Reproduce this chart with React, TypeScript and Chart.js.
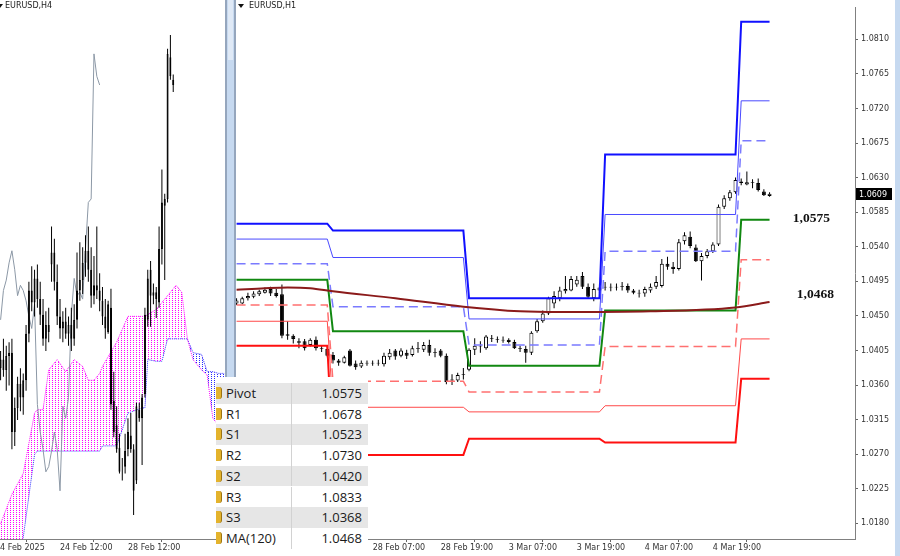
import React, { useEffect, useRef } from "react";
import { Chart, registerables } from "chart.js";

Chart.register(...registerables);

// ---------------- Right panel: EURUSD H1 (bar index 0 = 27 Feb 07:00) ----------------
const H1_OPEN = [
  1.0466, 1.0466, 1.0473, 1.0475, 1.0478, 1.0480, 1.0485, 1.0480, 1.0478, 1.0426,
  1.0424, 1.0417, 1.0417, 1.0412, 1.0419, 1.0408, 1.0407, 1.0399, 1.0392, 1.0389,
  1.0405, 1.0388, 1.0384, 1.0388, 1.0389, 1.0388, 1.0387, 1.0396, 1.0405, 1.0398,
  1.0402, 1.0399, 1.0407, 1.0406, 1.0412, 1.0402, 1.0405, 1.0398, 1.0366, 1.0366,
  1.0373, 1.0380, 1.0406, 1.0410, 1.0408, 1.0421, 1.0420, 1.0419, 1.0419, 1.0416,
  1.0408, 1.0407, 1.0402, 1.0430, 1.0443, 1.0453, 1.0466, 1.0473, 1.0482, 1.0483,
  1.0491, 1.0502, 1.0488, 1.0473, 1.0483, 1.0487, 1.0488, 1.0487, 1.0488, 1.0489,
  1.0483, 1.0480, 1.0479, 1.0483, 1.0488, 1.0489, 1.0518, 1.0514, 1.0511, 1.0547,
  1.0553, 1.0539, 1.0521, 1.0528, 1.0534, 1.0543, 1.0592, 1.0603, 1.0611, 1.0625,
  1.0621, 1.0624, 1.0623, 1.0612, 1.0606,
];
const H1_HIGH = [
  1.0473, 1.0475, 1.0480, 1.0482, 1.0484, 1.0487, 1.0488, 1.0485, 1.0491, 1.0443,
  1.0426, 1.0421, 1.0420, 1.0421, 1.0423, 1.0411, 1.0411, 1.0403, 1.0394, 1.0398,
  1.0407, 1.0392, 1.0392, 1.0392, 1.0392, 1.0393, 1.0402, 1.0407, 1.0407, 1.0408,
  1.0406, 1.0411, 1.0416, 1.0416, 1.0419, 1.0408, 1.0407, 1.0401, 1.0374, 1.0376,
  1.0382, 1.0408, 1.0421, 1.0417, 1.0425, 1.0425, 1.0423, 1.0423, 1.0421, 1.0419,
  1.0411, 1.0411, 1.0430, 1.0446, 1.0457, 1.0475, 1.0482, 1.0488, 1.0502, 1.0502,
  1.0502, 1.0507, 1.0492, 1.0492, 1.0492, 1.0494, 1.0492, 1.0492, 1.0494, 1.0492,
  1.0485, 1.0484, 1.0488, 1.0492, 1.0502, 1.0524, 1.0527, 1.0520, 1.0550, 1.0559,
  1.0560, 1.0543, 1.0532, 1.0537, 1.0546, 1.0595, 1.0607, 1.0614, 1.0630, 1.0629,
  1.0638, 1.0628, 1.0629, 1.0615, 1.0611,
];
const H1_LOW = [
  1.0464, 1.0465, 1.0470, 1.0473, 1.0476, 1.0479, 1.0476, 1.0474, 1.0421, 1.0419,
  1.0414, 1.0408, 1.0405, 1.0410, 1.0405, 1.0403, 1.0396, 1.0388, 1.0385, 1.0388,
  1.0384, 1.0380, 1.0382, 1.0385, 1.0385, 1.0385, 1.0384, 1.0393, 1.0393, 1.0396,
  1.0394, 1.0397, 1.0402, 1.0403, 1.0398, 1.0396, 1.0396, 1.0361, 1.0360, 1.0364,
  1.0367, 1.0378, 1.0399, 1.0402, 1.0406, 1.0416, 1.0415, 1.0415, 1.0414, 1.0407,
  1.0403, 1.0389, 1.0399, 1.0428, 1.0441, 1.0451, 1.0460, 1.0469, 1.0479, 1.0482,
  1.0488, 1.0485, 1.0473, 1.0469, 1.0479, 1.0483, 1.0482, 1.0483, 1.0483, 1.0480,
  1.0478, 1.0474, 1.0475, 1.0480, 1.0485, 1.0487, 1.0510, 1.0505, 1.0509, 1.0543,
  1.0538, 1.0520, 1.0496, 1.0525, 1.0532, 1.0541, 1.0589, 1.0600, 1.0609, 1.0620,
  1.0620, 1.0616, 1.0612, 1.0606, 1.0605,
];
const H1_CLOSE = [
  1.0470, 1.0473, 1.0476, 1.0479, 1.0482, 1.0484, 1.0479, 1.0476, 1.0424, 1.0424,
  1.0420, 1.0415, 1.0408, 1.0419, 1.0408, 1.0407, 1.0398, 1.0392, 1.0389, 1.0396,
  1.0385, 1.0383, 1.0389, 1.0389, 1.0388, 1.0389, 1.0398, 1.0402, 1.0397, 1.0405,
  1.0398, 1.0408, 1.0408, 1.0412, 1.0402, 1.0403, 1.0398, 1.0364, 1.0367, 1.0373,
  1.0374, 1.0406, 1.0411, 1.0411, 1.0423, 1.0420, 1.0419, 1.0418, 1.0416, 1.0408,
  1.0407, 1.0402, 1.0428, 1.0443, 1.0453, 1.0473, 1.0476, 1.0483, 1.0485, 1.0498,
  1.0497, 1.0488, 1.0475, 1.0485, 1.0487, 1.0488, 1.0487, 1.0488, 1.0489, 1.0483,
  1.0480, 1.0479, 1.0485, 1.0488, 1.0494, 1.0518, 1.0514, 1.0511, 1.0546, 1.0555,
  1.0541, 1.0521, 1.0528, 1.0534, 1.0543, 1.0592, 1.0603, 1.0611, 1.0627, 1.0623,
  1.0624, 1.0623, 1.0614, 1.0607, 1.0609,
];

// Daily pivot levels (27 Feb, 28 Feb, 3 Mar, 4 Mar, 5 Mar)
const DAY_START = [0, 17, 41, 65, 89];
const DAY_END = [16, 40, 64, 88, 94];
const LEVEL_R3 = [1.0570, 1.0561, 1.0473, 1.0660, 1.0833];
const LEVEL_R2 = [1.0550, 1.0526, 1.0446, 1.0582, 1.0730];
const LEVEL_R1 = [1.0518, 1.0462, 1.0412, 1.0534, 1.0678];
const LEVEL_P = [1.0497, 1.0430, 1.0385, 1.0457, 1.0575];
const LEVEL_S1 = [1.0464, 1.0365, 1.0351, 1.0410, 1.0523];
const LEVEL_S2 = [1.0443, 1.0331, 1.0325, 1.0333, 1.0420];
const LEVEL_S3 = [1.0411, 1.0269, 1.0290, 1.0285, 1.0368];

// MA(120) read at a few bars
const MA_IDX = [0, 5, 9, 13, 17, 28, 40, 50, 57, 73, 88, 94];
const MA_VAL = [1.0484, 1.0486, 1.0487, 1.0486, 1.0482, 1.0473, 1.0462, 1.0456, 1.0455, 1.0456, 1.0461, 1.0468];

const H1_TICK_IDX = [24, 36, 48, 60, 72, 84];
const H1_TICK_LABELS = ["28 Feb 07:00", "28 Feb 19:00", "3 Mar 07:00", "3 Mar 19:00", "4 Mar 07:00", "4 Mar 19:00"];
const Y_TICKS = [1.0180, 1.0225, 1.0270, 1.0315, 1.0360, 1.0405, 1.0450, 1.0495, 1.0540, 1.0585, 1.0630, 1.0675, 1.0720, 1.0765, 1.0810];
const KEY_LABELS = ["1,0575", "1,0468"];

// ---------------- Left panel: EURUSD H4 (bar index 0 = 19 Feb 00:00) ----------------
const H4_OPEN = [
  1.0445, 1.0450, 1.0444, 1.0452, 1.0454, 1.0408, 1.0422, 1.0436, 1.0428, 1.0438,
  1.0465, 1.0490, 1.0483, 1.0497, 1.0485, 1.0476, 1.0462, 1.0470, 1.0505, 1.0512,
  1.0495, 1.0475, 1.0468, 1.0472, 1.0465, 1.0470, 1.0462, 1.0473, 1.0490, 1.0496,
  1.0506, 1.0513, 1.0502, 1.0487, 1.0493, 1.0490, 1.0484, 1.0475, 1.0466, 1.0480,
  1.0426, 1.0412, 1.0399, 1.0388, 1.0388, 1.0398, 1.0406, 1.0398, 1.0380, 1.0421,
  1.0416, 1.0430, 1.0473, 1.0502, 1.0487, 1.0489, 1.0483, 1.0514, 1.0539, 1.0543,
  1.0625, 1.0612,
];
const H4_HIGH = [
  1.0455, 1.0462, 1.0458, 1.0460, 1.0462, 1.0428, 1.0440, 1.0445, 1.0442, 1.0470,
  1.0495, 1.0504, 1.0502, 1.0505, 1.0495, 1.0485, 1.0478, 1.0480, 1.0527, 1.0520,
  1.0505, 1.0485, 1.0478, 1.0480, 1.0475, 1.0480, 1.0482, 1.0512, 1.0518, 1.0515,
  1.0522, 1.0527, 1.0515, 1.0510, 1.0527, 1.0500, 1.0492, 1.0485, 1.0484, 1.0491,
  1.0443, 1.0423, 1.0407, 1.0393, 1.0407, 1.0416, 1.0419, 1.0401, 1.0425, 1.0425,
  1.0430, 1.0480, 1.0502, 1.0507, 1.0494, 1.0492, 1.0527, 1.0560, 1.0546, 1.0630,
  1.0638, 1.0615,
];
const H4_LOW = [
  1.0438, 1.0440, 1.0432, 1.0435, 1.0398, 1.0400, 1.0415, 1.0420, 1.0418, 1.0432,
  1.0460, 1.0478, 1.0475, 1.0480, 1.0470, 1.0458, 1.0455, 1.0460, 1.0495, 1.0490,
  1.0470, 1.0462, 1.0460, 1.0462, 1.0458, 1.0455, 1.0458, 1.0468, 1.0484, 1.0488,
  1.0498, 1.0495, 1.0480, 1.0482, 1.0485, 1.0478, 1.0470, 1.0462, 1.0465, 1.0421,
  1.0405, 1.0396, 1.0384, 1.0380, 1.0384, 1.0394, 1.0396, 1.0360, 1.0378, 1.0414,
  1.0389, 1.0428, 1.0469, 1.0469, 1.0482, 1.0474, 1.0480, 1.0505, 1.0496, 1.0541,
  1.0612, 1.0605,
];
const H4_CLOSE = [
  1.0450, 1.0444, 1.0452, 1.0454, 1.0408, 1.0422, 1.0436, 1.0428, 1.0438, 1.0465,
  1.0490, 1.0483, 1.0497, 1.0485, 1.0476, 1.0462, 1.0470, 1.0466, 1.0512, 1.0495,
  1.0475, 1.0468, 1.0472, 1.0465, 1.0470, 1.0462, 1.0473, 1.0490, 1.0496, 1.0506,
  1.0513, 1.0502, 1.0487, 1.0493, 1.0490, 1.0484, 1.0475, 1.0468, 1.0482, 1.0424,
  1.0408, 1.0398, 1.0385, 1.0388, 1.0397, 1.0408, 1.0398, 1.0374, 1.0423, 1.0416,
  1.0428, 1.0476, 1.0497, 1.0487, 1.0489, 1.0485, 1.0514, 1.0541, 1.0543, 1.0627,
  1.0614, 1.0609,
];
const CHIKOU_SHIFT = 26;

// Ichimoku cloud (Senkou spans, already shifted forward)
const CLOUD_IDX = [0, 4, 8, 12, 13, 15, 17, 20, 23, 26, 29, 31, 33, 35, 36, 41, 45, 50, 51, 52, 55, 57, 59, 62, 64, 66, 68, 71, 73, 75, 77, 79];
const SPAN_A = [1.0355, 1.0372, 1.0384, 1.0419, 1.0421, 1.0421, 1.0444, 1.0450, 1.0443, 1.0450, 1.0446, 1.0438, 1.0438, 1.0442, 1.0446, 1.0460, 1.0475, 1.0475, 1.0475, 1.0476, 1.0479, 1.0483, 1.0487, 1.0493, 1.0489, 1.0462, 1.0450, 1.0444, 1.0441, 1.0416, 1.0412, 1.0412];
const SPAN_B = [1.0311, 1.0322, 1.0347, 1.0395, 1.0397, 1.0397, 1.0397, 1.0397, 1.0397, 1.0397, 1.0397, 1.0397, 1.0397, 1.0397, 1.0400, 1.0400, 1.0419, 1.0422, 1.0422, 1.0450, 1.0449, 1.0449, 1.0462, 1.0462, 1.0462, 1.0462, 1.0454, 1.0453, 1.0443, 1.0443, 1.0442, 1.0442];

const H4_TICK_IDX = [21, 45];
const H4_TICK_LABELS = ["24 Feb 12:00", "28 Feb 12:00"];
const H4_FIRST_LABEL = "14 Feb 2025";

// ---------------- Overlay table ----------------
const TABLE_NAMES = ["Pivot", "R1", "S1", "R2", "S2", "R3", "S3", "MA(120)"];
const TABLE_VALUES = ["1.0575", "1.0678", "1.0523", "1.0730", "1.0420", "1.0833", "1.0368", "1.0468"];

const AXIS_FONT = { family: "DejaVu Sans", size: 8 };

function dotPattern(color: string) {
  const c = document.createElement("canvas");
  c.width = 3;
  c.height = 2;
  const g = c.getContext("2d")!;
  g.clearRect(0, 0, 3, 2);
  g.fillStyle = color;
  g.fillRect(1, 0, 1, 1);
  return g.createPattern(c, "repeat")!;
}

function candleSets(open: number[], high: number[], low: number[], close: number[], bodyW: number) {
  const wicks = {
    type: "bar" as const,
    data: open.map((_, i) => ({ x: i, y: [low[i], high[i]] })),
    backgroundColor: "#000",
    borderWidth: 0,
    grouped: false,
    maxBarThickness: 1,
    inflateAmount: 0,
    order: 3,
    clip: 0,
  };
  const bodies = {
    type: "bar" as const,
    data: open.map((o, i) => ({ x: i, y: [o, close[i]] })),
    backgroundColor: open.map((o, i) => (close[i] >= o ? "#ffffff" : "#000000")),
    borderColor: "#000",
    borderWidth: 1,
    borderSkipped: false,
    grouped: false,
    maxBarThickness: bodyW,
    inflateAmount: 0,
    order: 2,
    clip: 0,
  };
  return [wicks, bodies];
}

function levelPoints(vals: number[]) {
  return vals.flatMap((v, i) => [
    { x: DAY_START[i], y: v },
    { x: DAY_END[i], y: v },
  ]);
}

function levelSet(vals: number[], color: string, width: number, dash: number[] = []) {
  return {
    type: "line" as const,
    data: levelPoints(vals),
    borderColor: color,
    borderWidth: width,
    borderDash: dash,
    pointRadius: 0,
    tension: 0,
    fill: false,
    order: 1,
    clip: 0,
  };
}

export default function App() {
  const leftRef = useRef<HTMLCanvasElement>(null);
  const rightRef = useRef<HTMLCanvasElement>(null);

  useEffect(() => {
    const charts: Chart[] = [];

    // ---------- right chart ----------
    const R_PX_PER_BAR = 5.67;
    const R_XMIN = -0.1;
    const R_XMAX = R_XMIN + 619 / R_PX_PER_BAR;
    const rightDecor = {
      id: "rightDecor",
      afterDraw(chart: any) {
        const { ctx, chartArea } = chart;
        const x = chart.scales.x;
        const y = chart.scales.y;
        ctx.save();
        ctx.font = 'bold 13.5px "Liberation Serif"';
        ctx.fillStyle = "#111";
        ctx.textBaseline = "middle";
        ctx.textAlign = "left";
        ctx.fillText(KEY_LABELS[0], x.getPixelForValue(98.1), y.getPixelForValue(LEVEL_P[LEVEL_P.length - 1]) - 1);
        ctx.fillText(KEY_LABELS[1], x.getPixelForValue(98.8), y.getPixelForValue(MA_VAL[MA_VAL.length - 1]) - 8);
        const last = H1_CLOSE[H1_CLOSE.length - 1];
        const py = Math.round(y.getPixelForValue(last));
        ctx.fillStyle = "#000";
        ctx.fillRect(chartArea.right + 1, py - 6, 36, 12);
        ctx.fillStyle = "#fff";
        ctx.font = '8px "DejaVu Sans"';
        ctx.fillText(last.toFixed(4), chartArea.right + 4, py + 0.5);
        ctx.restore();
      },
    };

    if (rightRef.current) {
      const [wicks, bodies] = candleSets(H1_OPEN, H1_HIGH, H1_LOW, H1_CLOSE, 4);
      charts.push(
        new Chart(rightRef.current, {
          type: "line",
          data: {
            datasets: [
              {
                type: "line",
                data: MA_IDX.map((x, i) => ({ x, y: MA_VAL[i] })),
                borderColor: "#8b1a1a",
                borderWidth: 2,
                pointRadius: 0,
                cubicInterpolationMode: "monotone",
                fill: false,
                order: 0,
                clip: 0,
              } as any,
              levelSet(LEVEL_R3, "#1010ff", 2),
              levelSet(LEVEL_R2, "#4a4aff", 1),
              levelSet(LEVEL_R1, "#7a7aff", 1.5, [9, 5]),
              levelSet(LEVEL_P, "#118811", 2),
              levelSet(LEVEL_S1, "#ff7070", 1.5, [9, 5]),
              levelSet(LEVEL_S2, "#ff4a4a", 1),
              levelSet(LEVEL_S3, "#ff1010", 2),
              bodies as any,
              wicks as any,
            ],
          },
          options: {
            responsive: false,
            animation: false,
            devicePixelRatio: 1,
            layout: { padding: 0 },
            plugins: { legend: { display: false }, tooltip: { enabled: false } },
            scales: {
              x: {
                type: "linear",
                min: R_XMIN,
                max: R_XMAX,
                offset: false,
                grid: { drawOnChartArea: false, drawTicks: true, tickLength: 3, color: "#666" },
                border: { display: true, color: "#808080", width: 1 },
                ticks: {
                  align: "start",
                  maxRotation: 0,
                  autoSkip: false,
                  padding: 1,
                  color: "#333",
                  font: AXIS_FONT,
                  callback: (v: any) => {
                    const k = H1_TICK_IDX.indexOf(Number(v));
                    return k >= 0 ? H1_TICK_LABELS[k] : "";
                  },
                },
                afterBuildTicks: (s: any) => {
                  s.ticks = H1_TICK_IDX.map((v) => ({ value: v }));
                },
                afterFit: (s: any) => {
                  s.height = 17;
                },
              } as any,
              y: {
                type: "linear",
                position: "right",
                min: 1.01595,
                max: 1.08511,
                grid: { drawOnChartArea: false, drawTicks: true, tickLength: 3, color: "#666" },
                border: { display: true, color: "#808080", width: 1 },
                ticks: {
                  padding: 3,
                  color: "#333",
                  font: AXIS_FONT,
                  callback: (v: any) => Number(v).toFixed(4),
                },
                afterBuildTicks: (s: any) => {
                  s.ticks = Y_TICKS.map((v) => ({ value: v }));
                },
                afterFit: (s: any) => {
                  s.width = 45;
                },
              } as any,
            },
          },
          plugins: [rightDecor],
        })
      );
    }

    // ---------- left chart ----------
    if (leftRef.current) {
      const L_PX_PER_BAR = 2.83;
      const L_XMIN = -0.21;
      const L_XMAX = L_XMIN + 225 / L_PX_PER_BAR;
      const [wicks, bodies] = candleSets(H4_OPEN, H4_HIGH, H4_LOW, H4_CLOSE, 3);
      const chikou = H4_CLOSE.map((c, i) => ({ x: i - CHIKOU_SHIFT, y: c })).filter((p) => p.x >= 0);
      charts.push(
        new Chart(leftRef.current, {
          type: "line",
          data: {
            datasets: [
              {
                type: "line",
                data: CLOUD_IDX.map((x, i) => ({ x, y: SPAN_A[i] })),
                borderColor: "#ff00ff",
                borderWidth: 1,
                borderDash: [1, 1],
                pointRadius: 0,
                tension: 0,
                fill: { target: "+1", above: dotPattern("#ff00ff"), below: dotPattern("#2a2aff") },
                order: 5,
                clip: 0,
              } as any,
              {
                type: "line",
                data: CLOUD_IDX.map((x, i) => ({ x, y: SPAN_B[i] })),
                borderColor: "#3030ff",
                borderWidth: 1,
                borderDash: [1, 1],
                pointRadius: 0,
                tension: 0,
                fill: false,
                order: 5,
                clip: 0,
              } as any,
              {
                type: "line",
                data: chikou,
                borderColor: "#8c98a6",
                borderWidth: 1,
                pointRadius: 0,
                tension: 0,
                fill: false,
                order: 4,
                clip: 0,
              } as any,
              bodies as any,
              wicks as any,
            ],
          },
          options: {
            responsive: false,
            animation: false,
            devicePixelRatio: 1,
            layout: { padding: 0 },
            plugins: { legend: { display: false }, tooltip: { enabled: false } },
            scales: {
              x: {
                type: "linear",
                min: L_XMIN,
                max: L_XMAX,
                offset: false,
                grid: { drawOnChartArea: false, drawTicks: true, tickLength: 3, color: "#666" },
                border: { display: true, color: "#808080", width: 1 },
                ticks: {
                  align: "start",
                  maxRotation: 0,
                  autoSkip: false,
                  padding: 1,
                  color: "#333",
                  font: AXIS_FONT,
                  callback: (v: any) => {
                    const k = H4_TICK_IDX.indexOf(Number(v));
                    return k >= 0 ? H4_TICK_LABELS[k] : "";
                  },
                },
                afterBuildTicks: (s: any) => {
                  s.ticks = H4_TICK_IDX.map((v) => ({ value: v }));
                },
                afterFit: (s: any) => {
                  s.height = 17;
                },
              } as any,
              y: {
                type: "linear",
                display: false,
                min: 1.03461,
                max: 1.06582,
              },
            },
          },
        })
      );
    }

    return () => charts.forEach((c) => c.destroy());
  }, []);

  const rowH = 20.7;
  const txt: React.CSSProperties = { fontFamily: '"DejaVu Sans", sans-serif', fontSize: 8, color: "#222", position: "absolute", whiteSpace: "nowrap" };

  return (
    <div style={{ position: "relative", width: 900, height: 556, overflow: "hidden", background: "#fff" }}>
      <style>{"html,body{margin:0;padding:0;background:#fff;}"}</style>
      <canvas ref={leftRef} width={225} height={556} style={{ position: "absolute", left: 0, top: 0 }} />
      <canvas ref={rightRef} width={664} height={556} style={{ position: "absolute", left: 236, top: 0 }} />

      {/* first (cut) date label of left panel */}
      <span style={{ ...txt, left: -5, top: 543, color: "#333" }}>{H4_FIRST_LABEL}</span>

      {/* titles */}
      <div style={{ position: "absolute", left: -3, top: 4, width: 0, height: 0, borderLeft: "3px solid transparent", borderRight: "3px solid transparent", borderTop: "4px solid #111" }} />
      <span style={{ ...txt, left: 5, top: 1 }}>EURUSD,H4</span>
      <div style={{ position: "absolute", left: 238, top: 4, width: 0, height: 0, borderLeft: "3px solid transparent", borderRight: "3px solid transparent", borderTop: "4px solid #111" }} />
      <span style={{ ...txt, left: 249, top: 1 }}>EURUSD,H1</span>

      {/* window divider */}
      <div style={{ position: "absolute", left: 225, top: 0, width: 11, height: 556, boxSizing: "border-box", background: "#c6d9f0", borderLeft: "2px solid #95a6bd", borderRight: "2px solid #95a6bd" }} />
      <div style={{ position: "absolute", left: 228, top: 0, width: 5, height: 60, background: "#dfe9f6" }} />
      {/* right window edge */}
      <div style={{ position: "absolute", left: 895, top: 0, width: 5, height: 556, background: "#c6d9f0" }} />

      {/* overlay table */}
      <div style={{ position: "absolute", left: 216, top: 377, width: 152, height: 179, background: "#fff", overflow: "hidden" }}>
        {TABLE_NAMES.map((name, i) => (
          <div
            key={name}
            style={{
              position: "absolute",
              left: 0,
              top: 6 + i * rowH,
              width: 152,
              height: rowH,
              background: i % 2 === 0 ? "#e6e6e6" : "#ffffff",
              fontFamily: '"Open Sans", sans-serif',
              fontSize: 13,
              color: "#1a1a1a",
              lineHeight: rowH + "px",
            }}
          >
            <div style={{ position: "absolute", left: 0, top: 4, width: 5, height: 12, background: "#e4b32c", borderRadius: "0 3px 3px 0", borderRight: "1px solid #9c7414" }} />
            <span style={{ position: "absolute", left: 10 }}>{name}</span>
            <div style={{ position: "absolute", left: 75, top: 0, width: 1, height: rowH, background: "#d2d2d2" }} />
            <span style={{ position: "absolute", right: 6 }}>{TABLE_VALUES[i]}</span>
          </div>
        ))}
      </div>
    </div>
  );
}
